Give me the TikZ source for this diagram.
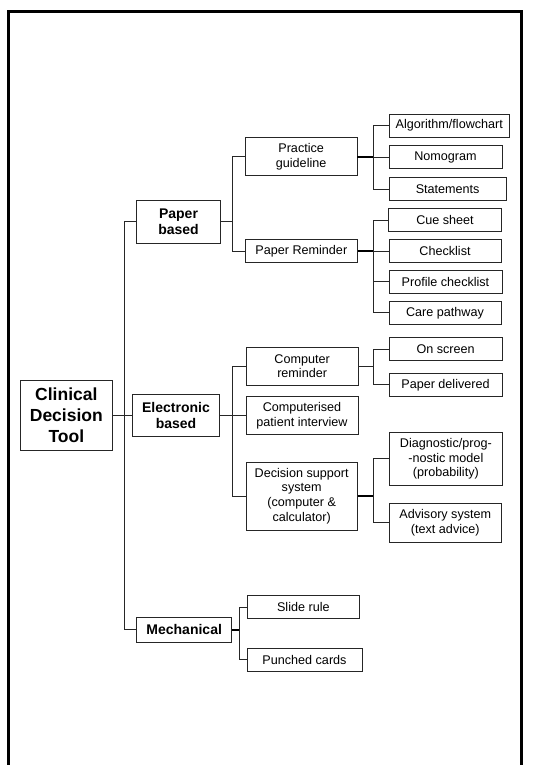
\documentclass[tikz,border=0pt]{standalone}
\usepackage{fontspec}
\setmainfont{Liberation Sans}
\begin{document}
\begin{tikzpicture}[x=1pt,y=-1pt,
  box/.style={draw=black!85, line width=0.9pt, align=center, inner sep=0pt, font=\fontsize{12.6}{14.6}\selectfont},
  bbox/.style={box, font=\fontsize{14}{16.3}\selectfont\bfseries},
  rbox/.style={box, font=\fontsize{17.5}{21}\selectfont\bfseries},
  sz/.style 2 args={minimum width=#1, minimum height=#2},
  link/.style={draw=black!85, line width=0.9pt},
  tlink/.style={draw=black, line width=1.8pt},
  frame/.style={draw=black, line width=2.6pt, line join=miter}
]
\useasboundingbox (0,0) rectangle (543,765);
\draw[frame] (8.7,772) -- (8.7,11.5) -- (521.6,11.5) -- (521.6,772);

% level 0 and 1
\node[rbox, sz={91.3}{70.7}] (root) at (66.35,415.35) {Clinical\\Decision\\Tool};
\node[bbox, sz={83.6}{42.7}] (paper) at (178.5,221.65) {Paper\\based};
\node[bbox, sz={86.6}{41.7}] (elec) at (176,415.15) {Electronic\\based};
\node[bbox, sz={95}{24.3}] (mech) at (184.2,629.85) {Mechanical};

% level 2
\node[box, sz={111.7}{38}] (practice) at (301.15,156.7) {Practice\\guideline};
\node[box, sz={112.7}{22.6}] (paperrem) at (301.35,251) {Paper Reminder};
\node[box, sz={112.3}{38}] (comprem) at (302.15,366.3) {Computer\\reminder};
\node[box, sz={112}{38}] (cpi) at (302,415.7) {Computerised\\patient interview};
\node[box, sz={111.3}{68}] (dss) at (301.65,496) {Decision support\\system\\(computer \&\\calculator)};
\node[box, sz={112.7}{23.4}] (slide) at (303.35,607) {Slide rule};
\node[box, sz={115}{23}] (punched) at (304.5,659.5) {Punched cards};

% level 3
\node[box, sz={120}{23.3}] (algo) at (449.3,125.65) {Algorithm/flowchart};
\node[box, sz={113}{23}] (nomo) at (445.5,157.2) {Nomogram};
\node[box, sz={117.3}{22.6}] (state) at (447.65,189) {Statements};
\node[box, sz={112.6}{23}] (cue) at (445,220.2) {Cue sheet};
\node[box, sz={112}{22.6}] (check) at (445,251) {Checklist};
\node[box, sz={113}{22.7}] (profile) at (445.5,281.65) {Profile checklist};
\node[box, sz={112}{23}] (care) at (445,312.8) {Care pathway};
\node[box, sz={112.7}{23.4}] (onscreen) at (445.65,349) {On screen};
\node[box, sz={113}{23}] (paperdel) at (445.5,384.8) {Paper delivered};
\node[box, sz={112.3}{52.3}] (diag) at (445.85,458.85) {Diagnostic/prog-\\-nostic model\\(probability)};
\node[box, sz={112}{38.3}] (advis) at (445.3,522.85) {Advisory system\\(text advice)};

% trunk positions
\coordinate (tA) at (124,0);
\coordinate (tB) at (232.7,0);
\coordinate (tE) at (232.3,0);
\coordinate (tC) at (373.5,0);
\coordinate (tM) at (239,0);

% root connectors
\draw[link] (paper.west) -- (paper.west -| tA) -- (mech.west -| tA) -- (mech.west);
\draw[link] (root.east) -- (root.east -| elec.west);

% paper based
\draw[link] (paper.east) -- (paper.east -| tB);
\draw[link] (practice.west) -- (practice.west -| tB) -- (paperrem.west -| tB) -- (paperrem.west);
\draw[tlink] (practice.east) -- (practice.east -| tC);
\draw[link] (algo.west) -- (algo.west -| tC) -- (state.west -| tC) -- (state.west);
\draw[link] (nomo.west) -- (nomo.west -| tC);
\draw[tlink] (paperrem.east) -- (paperrem.east -| tC);
\draw[link] (cue.west) -- (cue.west -| tC) -- (care.west -| tC) -- (care.west);
\draw[link] (check.west) -- (check.west -| tC);
\draw[link] (profile.west) -- (profile.west -| tC);

% electronic based
\draw[link] (elec.east) -- (elec.east -| tE);
\draw[link] (comprem.west) -- (comprem.west -| tE) -- (dss.west -| tE) -- (dss.west);
\draw[link] (cpi.west) -- (cpi.west -| tE);
\draw[link] (comprem.east) -- (comprem.east -| tC);
\draw[link] (onscreen.west) -- (onscreen.west -| tC) -- (paperdel.west -| tC) -- (paperdel.west);
\draw[tlink] (dss.east) -- (dss.east -| tC);
\draw[link] (diag.west) -- (diag.west -| tC) -- (advis.west -| tC) -- (advis.west);

% mechanical
\draw[tlink] (mech.east) -- (mech.east -| tM);
\draw[link] (slide.west) -- (slide.west -| tM) -- (punched.west -| tM) -- (punched.west);
\end{tikzpicture}
\end{document}
